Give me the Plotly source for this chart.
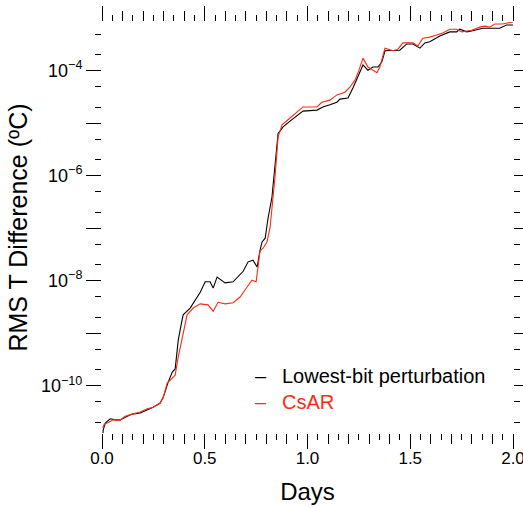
import numpy as np
import plotly.graph_objects as go

# ---- data (x in days, y as log10 of RMS T difference in degC)
days_black = [0.000, 0.006, 0.016, 0.040, 0.065, 0.089, 0.113, 0.147, 0.186, 0.220,
              0.249, 0.283, 0.298, 0.322, 0.342, 0.356, 0.371, 0.385, 0.395, 0.429,
              0.453, 0.478, 0.502, 0.526, 0.541, 0.560, 0.599, 0.638, 0.687, 0.711,
              0.735, 0.755, 0.769, 0.779, 0.794, 0.808, 0.827, 0.842, 0.857, 0.866,
              0.881, 0.915, 0.949, 0.978, 1.046, 1.075, 1.109, 1.143, 1.158, 1.197,
              1.221, 1.245, 1.270, 1.294, 1.318, 1.343, 1.362, 1.377, 1.401, 1.435,
              1.449, 1.483, 1.513, 1.547, 1.571, 1.595, 1.629, 1.644, 1.692, 1.726,
              1.741, 1.775, 1.804, 1.829, 1.853, 1.902, 1.935, 1.969, 2.000]
log10_black = [-11.17, -10.84, -10.71, -10.63, -10.65, -10.65, -10.60, -10.54, -10.52, -10.46,
               -10.41, -10.33, -10.22, -9.93, -9.74, -9.68, -9.13, -8.84, -8.65, -8.52,
               -8.37, -8.22, -8.02, -8.02, -8.14, -7.93, -8.04, -8.02, -7.82, -7.64,
               -7.61, -7.74, -7.42, -7.26, -7.19, -6.81, -6.41, -5.80, -5.19, -5.15,
               -5.07, -4.96, -4.86, -4.77, -4.75, -4.69, -4.65, -4.60, -4.54, -4.52,
               -4.33, -4.12, -3.89, -3.99, -3.93, -3.93, -3.83, -3.62, -3.62, -3.62,
               -3.61, -3.49, -3.49, -3.57, -3.47, -3.45, -3.38, -3.34, -3.26, -3.26,
               -3.21, -3.26, -3.24, -3.21, -3.19, -3.19, -3.19, -3.13, -3.13]

days_red = [0.004, 0.011, 0.026, 0.055, 0.089, 0.113, 0.147, 0.186, 0.220, 0.249,
            0.283, 0.298, 0.317, 0.342, 0.356, 0.371, 0.395, 0.414, 0.444, 0.478,
            0.516, 0.541, 0.565, 0.599, 0.638, 0.672, 0.706, 0.730, 0.750, 0.759,
            0.769, 0.784, 0.803, 0.818, 0.842, 0.857, 0.876, 0.915, 0.949, 0.978,
            1.046, 1.070, 1.109, 1.143, 1.182, 1.207, 1.231, 1.246, 1.270, 1.294,
            1.338, 1.352, 1.377, 1.416, 1.440, 1.464, 1.513, 1.537, 1.561, 1.595,
            1.629, 1.658, 1.692, 1.726, 1.751, 1.775, 1.799, 1.838, 1.863, 1.887,
            1.911, 1.950, 1.984, 2.000]
log10_red = [-10.81, -10.73, -10.71, -10.65, -10.65, -10.58, -10.54, -10.50, -10.44, -10.41,
             -10.33, -10.22, -9.95, -9.85, -9.80, -9.45, -9.00, -8.65, -8.52, -8.44,
             -8.46, -8.58, -8.41, -8.44, -8.42, -8.31, -8.12, -7.99, -8.02, -7.70,
             -7.43, -7.38, -7.26, -6.98, -6.02, -5.26, -5.03, -4.90, -4.79, -4.69,
             -4.69, -4.60, -4.56, -4.46, -4.41, -4.31, -4.18, -4.04, -3.76, -3.93,
             -4.04, -3.93, -3.57, -3.62, -3.59, -3.47, -3.47, -3.53, -3.38, -3.36,
             -3.32, -3.28, -3.21, -3.21, -3.26, -3.24, -3.23, -3.17, -3.15, -3.17,
             -3.11, -3.11, -3.09, -3.07]

series_names = ["Lowest-bit perturbation", "CsAR"]
series_colors = ["#000000", "#ff2a12"]

x_major = [0.0, 0.5, 1.0, 1.5, 2.0]
x_major_labels = ["0.0", "0.5", "1.0", "1.5", "2.0"]
x_medium = [round(v, 2) for v in np.arange(0.0, 2.001, 0.1)]
x_minor = [round(v, 2) for v in np.arange(0.05, 2.0, 0.1)]
y_decades = list(range(-10, -3))          # exponents of decade ticks
y_labelled = [-10, -8, -6, -4]             # decades that carry a label

FONT = "Liberation Sans, Arial, Helvetica, sans-serif"

y_black = [10 ** v for v in log10_black]
y_red = [10 ** v for v in log10_red]

fig = go.Figure()
fig.add_trace(go.Scatter(x=days_black, y=y_black, mode="lines", name=series_names[0],
                         line=dict(color=series_colors[0], width=1.1), showlegend=False))
fig.add_trace(go.Scatter(x=days_red, y=y_red, mode="lines", name=series_names[1],
                         line=dict(color=series_colors[1], width=1.1), showlegend=False))
# empty trace so the overlaid tick axis is drawn
fig.add_trace(go.Scatter(x=[None], y=[None], xaxis="x2", yaxis="y", showlegend=False,
                         hoverinfo="skip"))

medium_text = [x_major_labels[x_major.index(v)] if v in x_major else "" for v in x_medium]

y_tickvals = [10.0 ** n for n in y_decades]
y_ticktext = [("10<sup>\u2212%d</sup>" % (-n)) if n in y_labelled else "" for n in y_decades]
y_minor = [k * 10.0 ** n for n in range(-11, -3) for k in (2, 5)]

fig.update_layout(
    width=523, height=508,
    margin=dict(l=102, r=10, t=22, b=75, autoexpand=False),
    paper_bgcolor="white", plot_bgcolor="white",
    font=dict(family=FONT, color="black", size=17),
    xaxis=dict(
        range=[0, 2], showgrid=False, zeroline=False, showline=False, automargin=False,
        tickmode="array", tickvals=x_medium, ticktext=medium_text,
        ticks="outside", ticklen=10, tickwidth=1, tickcolor="black",
        mirror="ticks", tickfont=dict(size=17), ticklabeloverflow="allow",
        minor=dict(tickmode="array", tickvals=x_minor, ticks="outside", ticklen=6,
                   tickwidth=1, tickcolor="black", showgrid=False),
        title=dict(text="Days", font=dict(size=24), standoff=15),
    ),
    xaxis2=dict(
        range=[0, 2], overlaying="x", anchor="y", side="bottom", automargin=False,
        showgrid=False, zeroline=False, showline=False,
        tickmode="array", tickvals=x_major, showticklabels=False,
        ticks="outside", ticklen=15, tickwidth=1, tickcolor="black", mirror="ticks",
    ),
    yaxis=dict(
        type="log", range=[-10.90, -3.072], showgrid=False, zeroline=False, showline=False,
        automargin=False,
        tickmode="array", tickvals=y_tickvals, ticktext=y_ticktext,
        ticks="outside", ticklen=15, tickwidth=1, tickcolor="black",
        mirror="ticks", tickfont=dict(size=18),
        minor=dict(tickmode="array", tickvals=y_minor, ticks="outside", ticklen=6,
                   tickwidth=1, tickcolor="black", showgrid=False),
        title=dict(text="RMS T Difference (\u00baC)", font=dict(size=25), standoff=6),
    ),
)

# legend drawn as text entries
legend_rows = [(0.139, series_names[0], series_colors[0], "black"),
               (0.075, series_names[1], series_colors[1], series_colors[1])]
for yy, name, lc, tc in legend_rows:
    fig.add_annotation(xref="paper", yref="paper", x=0.387, y=yy, text="\u2013",
                       showarrow=False, xanchor="center", yanchor="middle",
                       font=dict(size=20, color=lc, family=FONT))
    fig.add_annotation(xref="paper", yref="paper", x=0.433, y=yy, text=name,
                       showarrow=False, xanchor="left", yanchor="middle",
                       font=dict(size=20, color=tc, family=FONT))

fig.write_html("out.html")
